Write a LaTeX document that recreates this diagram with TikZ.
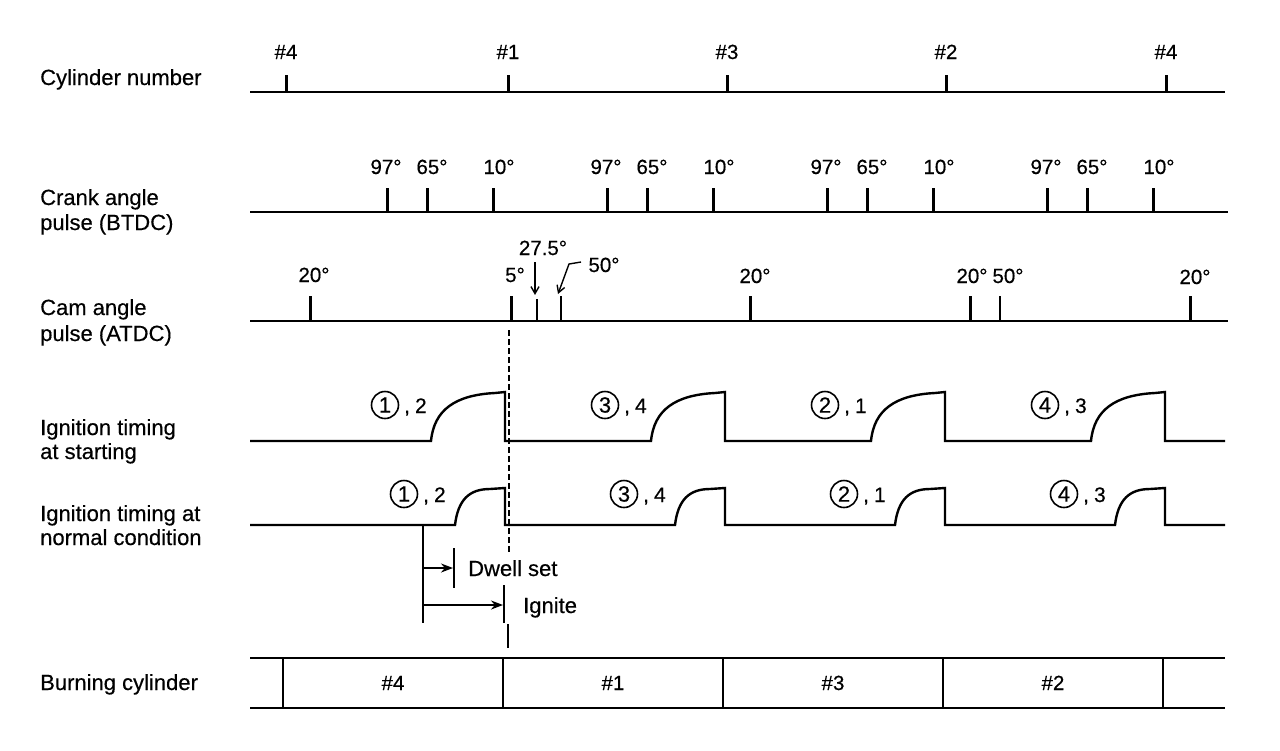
\documentclass[tikz,border=0pt]{standalone}
\usepackage{fontspec}
\setmainfont{Liberation Sans}[FakeBold=0.4]
\usetikzlibrary{arrows.meta}
\tikzset{
  lbl/.style={anchor=base west, inner sep=0pt, font=\fontsize{22}{25}\selectfont},
  num/.style={anchor=base, inner sep=0pt, font=\fontsize{20.5}{24}\selectfont},
  axis/.style={line width=2.2pt},
  tickmark/.style={line width=3pt},
  thintick/.style={line width=1.5pt},
  wave/.style={line width=2.4pt, line join=miter},
  cnum/.style={circle, draw, line width=1.6pt, minimum size=27pt, inner sep=0pt, font=\fontsize{22}{24}\selectfont},
  cnext/.style={anchor=base west, inner sep=0pt, font=\fontsize{21}{24}\selectfont},
  dimarrow/.style={line width=1.7pt, -{Stealth[length=12pt,width=9pt]}},
  ptarrow/.style={line width=1.4pt, -{Straight Barb[length=7pt,width=8pt]}},
}
\begin{document}
\begin{tikzpicture}[x=1pt,y=-1pt]
\useasboundingbox (0,0) rectangle (1280,750);
\fill[white] (0,0) rectangle (1280,750);

% ---------- left labels ----------
\node[lbl] (tcyl) at (40,85) {Cylinder number};
\node[lbl] (tcr1) at (40,205) {Crank angle};
\node[lbl] (tcr2) at (40,230) {pulse (BTDC)};
\node[lbl] (tcm1) at (40,315) {Cam angle};
\node[lbl] (tcm2) at (40,341) {pulse (ATDC)};
\node[lbl] (tis1) at (40,435) {Ignition timing};
\node[lbl] (tis2) at (40,459) {at starting};
\node[lbl] (tin1) at (40,521) {Ignition timing at};
\node[lbl] (tin2) at (40,545) {normal condition};
\node[lbl] (tbc) at (40,690) {Burning cylinder};

% ---------- cylinder number ----------
\draw[axis] (250,92) -- (1225,92);
\foreach \x/\t [count=\i] in {286/4,508/1,727/3,946/2,1166/4}{
  \draw[tickmark] (\x,92) -- (\x,75);
  \node[num] (cy\i) at (\x,59) {\#\t};
}

% ---------- crank angle pulse ----------
\draw[axis] (250,212) -- (1228,212);
\foreach \k in {0,1,2,3}{
  \draw[tickmark] ({387+220*\k},212) -- ({387+220*\k},188);
  \draw[tickmark] ({427+220*\k},212) -- ({427+220*\k},188);
  \draw[tickmark] ({493+220*\k},212) -- ({493+220*\k},188);
  \node[num] (ca\k) at ({386+220*\k},174) {97°};
  \node[num] (cb\k) at ({432+220*\k},174) {65°};
  \node[num] (cc\k) at ({499+220*\k},174) {10°};
}

% ---------- cam angle pulse ----------
\draw[axis] (250,321) -- (1228,321);
\foreach \x in {310,511,750,970,1190}{
  \draw[tickmark] (\x,321) -- (\x,296);
}
\draw[thintick] (537,321) -- (537,299);
\draw[line width=2.2pt] (561,321) -- (561,296);
\draw[line width=2pt] (1000,321) -- (1000,296);
\node[num] (m1) at (314,282) {20°};
\node[num] (m2) at (515,282) {5°};
\node[num] (m3) at (543,255) {27.5°};
\node[num] (m4) at (604,272) {50°};
\node[num] (m5) at (755,283) {20°};
\node[num] (m6) at (972,283) {20°};
\node[num] (m7) at (1008,283) {50°};
\node[num] (m8) at (1195,284) {20°};
\coordinate (a275s) at (535,262);
\coordinate (a275e) at (535,295);
\draw[ptarrow] (a275s) -- (a275e);
\coordinate (a50s) at (581,262);
\coordinate (a50e) at (558,294);
\draw[ptarrow] (a50s) -- (569,264) -- (a50e);

% dashed reference line
\draw[line width=1.4pt, dash pattern=on 6pt off 3pt] (509,330) -- (509,552);

% ---------- ignition timing at starting ----------
\draw[wave] (250,441)
  foreach \k in {0,1,2,3}{
    -- ({431+220*\k},441)
    .. controls ({434+220*\k},410) and ({455+220*\k},395) .. ({495+220*\k},393)
    -- ({505+220*\k},392) -- ({505+220*\k},441)
  } -- (1225,441);
\foreach \c/\n/\x [count=\i] in {1/2/385,3/4/605,2/1/825,4/3/1045}{
  \node[cnum] (cs\i) at (\x,405) {\c};
  \node[cnext] (ds\i) at ({\x+19},413) {,\kern5pt\n};
}

% ---------- ignition timing at normal condition ----------
\draw[wave] (250,525)
  foreach \k in {0,1,2,3}{
    -- ({455+220*\k},525)
    .. controls ({458+220*\k},500) and ({469+220*\k},489) .. ({490+220*\k},489)
    -- ({505+220*\k},488) -- ({505+220*\k},525)
  } -- (1225,525);
\foreach \c/\n/\x [count=\i] in {1/2/404,3/4/624,2/1/844,4/3/1064}{
  \node[cnum] (cn\i) at (\x,494) {\c};
  \node[cnext] (dn\i) at ({\x+19},502) {,\kern5pt\n};
}

% ---------- dwell / ignite ----------
\coordinate (d0) at (423,526);
\coordinate (d1) at (423,623);
\draw[line width=2.2pt] (d0) -- (d1);
\coordinate (dws) at (423,568);
\coordinate (dwe) at (453,568);
\draw[dimarrow] (dws) -- (dwe);
\draw[line width=2.6pt] (454,548) -- (454,588);
\node[lbl] (tdw) at (468,576) {Dwell set};
\coordinate (igs) at (423,605);
\coordinate (ige) at (503,605);
\draw[dimarrow] (igs) -- (ige);
\draw[line width=2.6pt] (504,585) -- (504,623);
\node[lbl] (tig) at (523,613) {Ignite};
\draw[line width=2.2pt] (508,624) -- (508,648);

% ---------- burning cylinder ----------
\draw[axis] (250,658) -- (1225,658);
\draw[axis] (250,708) -- (1225,708);
\foreach \x in {283,503,723,943,1163}{
  \draw[line width=2.6pt] (\x,658) -- (\x,708);
}
\foreach \x/\t [count=\i] in {393/4,613/1,833/3,1053/2}{
  \node[num] (bc\i) at (\x,690) {\#\t};
}
\end{tikzpicture}
\end{document}
